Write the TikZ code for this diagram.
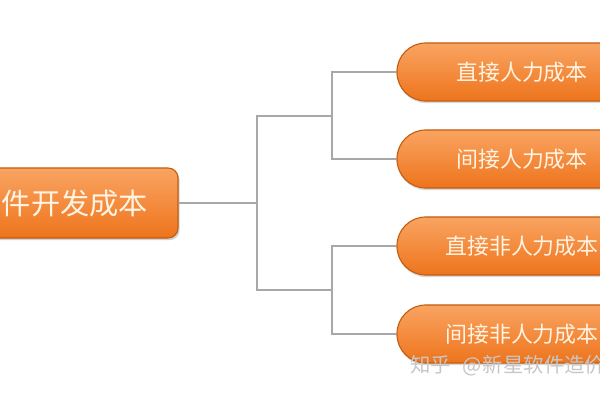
\documentclass[tikz,border=0pt]{standalone}
\usepackage{fontspec}
\newfontfamily\cjk{Noto Sans CJK SC}
\usetikzlibrary{positioning, shadows}
\definecolor{orangetop}{HTML}{F9A462}
\definecolor{orangemid}{HTML}{F5852F}
\definecolor{orangebot}{HTML}{EE741C}
\definecolor{orangeedge}{HTML}{C45D10}
\definecolor{linkgray}{HTML}{A8A8A8}
\definecolor{labelcream}{HTML}{FFF3E2}
\tikzstyle{link} = [draw=linkgray, line width=1.3pt]
\tikzstyle{pill} = [draw=orangeedge, line width=0.8pt, rounded corners=0.72cm,
    top color=orangetop, middle color=orangemid, bottom color=orangebot,
    minimum width=6.25cm, minimum height=1.45cm, text=labelcream,
    font=\cjk\fontsize{15.6}{18}\selectfont,
    drop shadow={opacity=0.3, shadow xshift=0.4pt, shadow yshift=-1.5pt}]
\tikzstyle{rootbox} = [draw=orangeedge, line width=0.8pt, rounded corners=0.25cm,
    top color=orangetop, middle color=orangemid, bottom color=orangebot,
    minimum height=1.75cm, inner xsep=0.75cm, text width=5cm, align=right,
    text=labelcream, font=\cjk\fontsize{20.8}{23}\selectfont,
    drop shadow={opacity=0.35, shadow xshift=1.2pt, shadow yshift=-1.5pt}]
\tikzstyle{watermarktext} = [anchor=west, text=black!22, inner sep=0pt,
    font=\cjk\fontsize{14.5}{16}\selectfont]

\begin{document}
\begin{tikzpicture}[x=0.025cm, y=-0.025cm]
    \useasboundingbox (0,0) rectangle (600,400);
    \clip (0,0) rectangle (600,400);
    \fill[white] (0,0) rectangle (600,400);

    % root and the four cost items
    \node[rootbox] (root) at (48,203) {件开发成本};
    \node[pill] (direct) at (522,72) {直接人力成本};
    \node[pill] (indirect) at (522,159) {间接人力成本};
    \node[pill] (directnon) at (522,246) {直接非人力成本};
    \node[pill] (indirectnon) at (522,334) {间接非人力成本};

    \coordinate (split) at (257,203);
    \coordinate (upper) at (332,116);
    \coordinate (lower) at (332,290);

    \draw[link] (root.east) -- (split);
    \draw[link] (split) |- (upper);
    \draw[link] (split) |- (lower);
    \draw[link] (upper) |- (direct.west);
    \draw[link] (upper) |- (indirect.west);
    \draw[link] (lower) |- (directnon.west);
    \draw[link] (lower) |- (indirectnon.west);

    \node[watermarktext] (wm) at (410,366) {知乎\hspace{8pt}@\hspace{1pt}新星软件造价};
\end{tikzpicture}
\end{document}
